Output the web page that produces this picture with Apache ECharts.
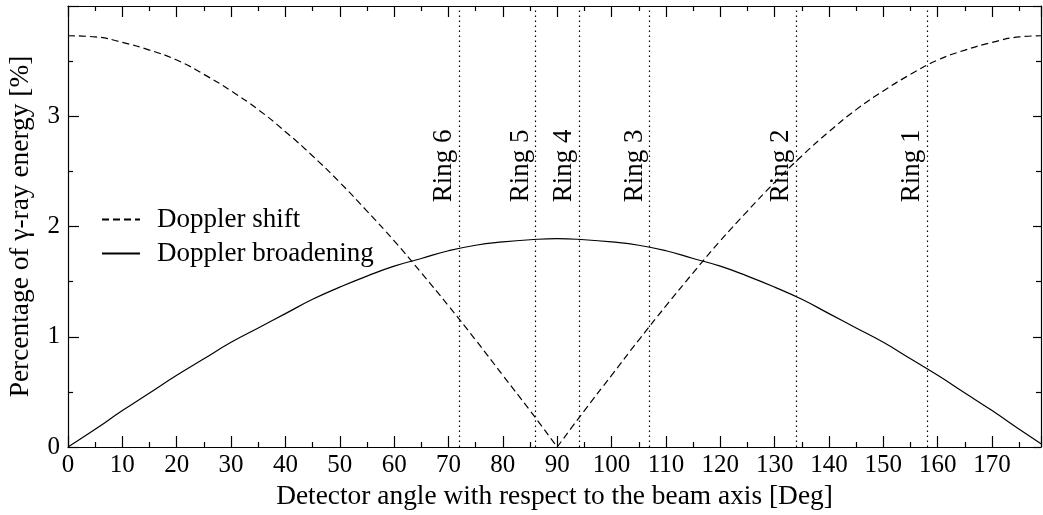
<!DOCTYPE html>
<html>
<head>
<meta charset="utf-8">
<script src="https://cdn.jsdelivr.net/npm/echarts@6/dist/echarts.min.js"></script>
<style>
  html, body { margin: 0; padding: 0; background: #fff; }
</style>
</head>
<body>
<div id="chart" style="width: 1043px; height: 515px"></div>
<script>
// detector angle [deg]
const angles = [0, 5, 10, 15, 20, 25, 30, 35, 40, 45, 50, 55, 60, 65, 70, 75, 80, 85, 90,
  95, 100, 105, 110, 115, 120, 125, 130, 135, 140, 145, 150, 155, 160, 165, 170, 175, 179];
// percentage of gamma-ray energy [%]
const dopplerShift = [3.73, 3.72, 3.67, 3.60, 3.51, 3.38, 3.23, 3.06, 2.86, 2.64, 2.40, 2.14, 1.87, 1.58, 1.28, 0.97, 0.65, 0.33, 0.00,
  0.33, 0.65, 0.97, 1.28, 1.58, 1.87, 2.14, 2.40, 2.64, 2.86, 3.06, 3.23, 3.38, 3.51, 3.60, 3.67, 3.72, 3.73];
const dopplerBroadening = [0.00, 0.16, 0.33, 0.49, 0.65, 0.80, 0.95, 1.08, 1.21, 1.34, 1.45, 1.55, 1.64, 1.71, 1.78, 1.83, 1.86, 1.88, 1.89,
  1.88, 1.86, 1.83, 1.78, 1.71, 1.64, 1.55, 1.45, 1.34, 1.21, 1.08, 0.95, 0.80, 0.65, 0.49, 0.33, 0.16, 0.03];
// detector rings
const ringNames = ["Ring 1", "Ring 2", "Ring 3", "Ring 4", "Ring 5", "Ring 6"];
const ringAngles = [158, 134, 107, 94, 86, 72];
const ringLabelY = 2.55;

const FONT = "Liberation Serif";
const chart = echarts.init(document.getElementById("chart"));

const shiftPts = angles.map((a, i) => [a, dopplerShift[i]]);
const shiftLeft = shiftPts.filter((p) => p[0] <= 90);
const shiftRight = shiftPts.filter((p) => p[0] >= 90);
const broadPts = angles.map((a, i) => [a, dopplerBroadening[i]]);

const axisLine = { show: true, onZero: false, lineStyle: { color: "#000", width: 1.2 } };
const tickStyle = { color: "#000", width: 1.2 };

chart.setOption({
  animation: false,
  textStyle: { fontFamily: FONT },
  grid: { left: 68, right: 2, top: 6, bottom: 68, outerBoundsMode: "none" },
  legend: {
    left: 96,
    top: 201,
    orient: "vertical",
    itemWidth: 38,
    itemHeight: 10,
    itemGap: 7,
    data: ["Doppler shift", "Doppler broadening"],
    itemStyle: { opacity: 0 },
    textStyle: { fontFamily: FONT, fontSize: 27, color: "#000", padding: [0, 0, 0, 12] },
  },
  xAxis: [
    {
      type: "value",
      min: 0,
      max: 179,
      interval: 10,
      position: "bottom",
      axisLine: axisLine,
      axisTick: { inside: true, length: 11, lineStyle: tickStyle },
      minorTick: { show: true, splitNumber: 2, length: 5, lineStyle: tickStyle },
      splitLine: { show: false },
      axisLabel: { fontFamily: FONT, fontSize: 25, color: "#000", margin: 6, showMaxLabel: false },
      name: "Detector angle with respect to the beam axis [Deg]",
      nameLocation: "middle",
      nameGap: 36,
      nameTextStyle: { fontFamily: FONT, fontSize: 27.4, color: "#000" },
    },
    {
      type: "value",
      min: 0,
      max: 179,
      interval: 10,
      position: "top",
      axisLine: axisLine,
      axisTick: { inside: true, length: 11, lineStyle: tickStyle },
      minorTick: { show: true, splitNumber: 2, length: 5, lineStyle: tickStyle },
      splitLine: { show: false },
      axisLabel: { show: false },
    },
  ],
  yAxis: [
    {
      type: "value",
      min: 0,
      max: 4,
      interval: 1,
      position: "left",
      axisLine: axisLine,
      axisTick: { inside: true, length: 11, lineStyle: tickStyle },
      minorTick: { show: true, splitNumber: 2, length: 5, lineStyle: tickStyle },
      splitLine: { show: false },
      axisLabel: { fontFamily: FONT, fontSize: 25, color: "#000", margin: 8, showMaxLabel: false },
      name: "Percentage of γ-ray energy [%]",
      nameLocation: "middle",
      nameGap: 34,
      nameTextStyle: { fontFamily: FONT, fontSize: 27.4, color: "#000" },
    },
    {
      type: "value",
      min: 0,
      max: 4,
      interval: 1,
      position: "right",
      axisLine: axisLine,
      axisTick: { inside: true, length: 8, lineStyle: tickStyle },
      minorTick: { show: true, splitNumber: 2, length: 5, lineStyle: tickStyle },
      splitLine: { show: false },
      axisLabel: { show: false },
    },
  ],
  series: [
    {
      name: "Doppler shift",
      type: "line",
      data: shiftLeft,
      smooth: true,
      showSymbol: false,
      symbol: "none",
      lineStyle: { color: "#000", width: 1.2, type: [7, 4] },
      itemStyle: { color: "#000" },
    },
    {
      name: "Doppler shift",
      type: "line",
      data: shiftRight,
      smooth: true,
      showSymbol: false,
      symbol: "none",
      lineStyle: { color: "#000", width: 1.2, type: [7, 4] },
      itemStyle: { color: "#000" },
    },
    {
      name: "Doppler broadening",
      type: "line",
      data: broadPts,
      smooth: true,
      showSymbol: false,
      symbol: "none",
      lineStyle: { color: "#000", width: 1.2 },
      itemStyle: { color: "#000" },
      markLine: {
        silent: true,
        symbol: ["none", "none"], // 去掉箭头
        label: { show: false },
        lineStyle: { color: "#000", type: [1.5, 3.5], width: 1.2 },
        data: ringAngles.map((a) => ({ xAxis: a })),
      },
    },
    {
      name: "rings",
      type: "scatter",
      symbolSize: 0,
      silent: true,
      itemStyle: { opacity: 1 },
      data: ringAngles.map((a, i) => [a, ringLabelY, ringNames[i]]),
      label: {
        show: true,
        position: "inside",
        rotate: 90,
        offset: [0, -15],
        formatter: (p) => p.value[2],
        fontFamily: FONT,
        fontSize: 27,
        color: "#000",
      },
    },
  ],
});
</script>
</body>
</html>
